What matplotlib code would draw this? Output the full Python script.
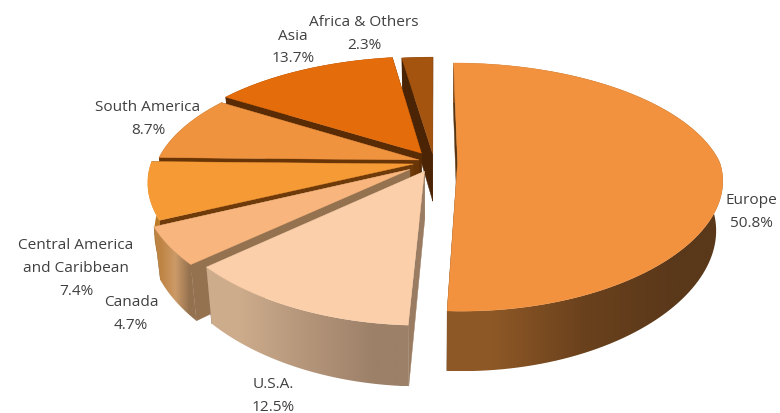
import numpy as np
import matplotlib.pyplot as plt
from matplotlib.colors import to_rgb
from matplotlib.patches import Polygon

regions = ['Europe', 'U.S.A.', 'Canada', 'Central America\nand Caribbean',
           'South America', 'Asia', 'Africa & Others']
shares = [50.8, 12.5, 4.7, 7.4, 8.7, 13.7, 2.3]
explode = [0.09, 0.085, 0.11, 0.08, 0.06, 0.09, 0.07]

top_colors = ['#F2923F', '#FBCFAA', '#F8B67E', '#F69A35', '#F0933F', '#E46C0A', '#A4540E']
# side shading, left to right on screen
rim_colors = [['#8E5826', '#6A411D', '#5A381A'],
              ['#CDAC8C', '#B4957A', '#9C8068'],
              ['#BE8443', '#CC9A68', '#94714F'],
              ['#BE7C28', '#BE7C28', '#B87526'],
              ['#6A3506', '#6A3506', '#6A3506'],
              ['#5A2C06', '#5A2C06', '#5A2C06'],
              ['#4A2404', '#4A2404', '#4A2404']]
wall_colors = ['#5A3512', '#9A7C62', '#94714F', '#6E3A0A', '#6A3506', '#5A2C06', '#4A2404']

# label centres in pixels
label_x = [751, 273, 131, 76, 148, 293, 364]
label_y = [211.5, 395.5, 314, 268, 118.5, 47, 33.5]
line_height = 23

# pie placement and perspective
cx, cy = 434, 163
rx, ry = 262, 119
depth = 48
persp = 0.2
taper = 0.023
start_deg = 0


def project(u, v, z=0.0):
    u, v = np.asarray(u, float), np.asarray(v, float)
    s = 1 / (1 + persp * v)
    # near half widens less than it drops
    sx = np.where(v < 0, s ** 0.7, s)
    return (cx + rx * u * sx * (1 - taper * z), cy - ry * v * s + depth * z * s)


def gradient_strip(stops):
    return np.array([[to_rgb(c) for c in stops]])


fig = plt.figure(figsize=(7.8, 4.14), dpi=100)
ax = fig.add_axes([0, 0, 1, 1])
ax.set_xlim(0, 780)
ax.set_ylim(414, 0)
ax.set_autoscale_on(False)
ax.axis('off')

fractions = np.array(shares) / sum(shares)
edges = np.radians(start_deg + 360 * np.concatenate([[0], np.cumsum(fractions)]))

# back slices first, Europe goes last
for i in [6, 5, 4, 3, 2, 1, 0]:
    base = i * -3 + 30
    theta = np.linspace(edges[i], edges[i + 1], 120)
    mid = (edges[i] + edges[i + 1]) / 2
    ou, ov = explode[i] * np.sin(mid), explode[i] * np.cos(mid)
    u, v = ou + np.sin(theta), ov + np.cos(theta)

    # the two flat cut faces
    for j in [0, -1]:
        wall = [project(ou, ov), project(u[j], v[j]), project(u[j], v[j], 1), project(ou, ov, 1)]
        ax.fill(*zip(*wall), color=wall_colors[i], lw=0.3, zorder=base)

    # curved outer face, shaded across its width
    x0, y0 = project(u, v)
    x1, y1 = project(u, v, 1)
    outline = Polygon(np.column_stack([np.r_[x0, x1[::-1]], np.r_[y0, y1[::-1]]]),
                      closed=True, facecolor='none', edgecolor='none', transform=ax.transData)
    ax.add_patch(outline)
    ax.imshow(gradient_strip(rim_colors[i]), aspect='auto', interpolation='bilinear',
              extent=(min(x0.min(), x1.min()), max(x0.max(), x1.max()), max(y0.max(), y1.max()),
                      min(y0.min(), y1.min())),
              clip_path=outline, zorder=base + 1)

    # top face
    tip_x, tip_y = project(ou, ov)
    ax.fill(np.r_[tip_x, x0], np.r_[tip_y, y0], color=top_colors[i], lw=0.3, zorder=base + 2)

# each label line is its own text so neighbouring labels can sit close
for name, share, lx, ly in zip(regions, shares, label_x, label_y):
    lines = name.split('\n') + [f'{share:.1f}%']
    for k, line in enumerate(lines):
        ax.text(lx, ly + (k - (len(lines) - 1) / 2) * line_height + 4, line, ha='center',
                va='baseline', fontsize=11.1, family='Open Sans', color='#404040', zorder=50)

fig.savefig('out.png', dpi=100)
